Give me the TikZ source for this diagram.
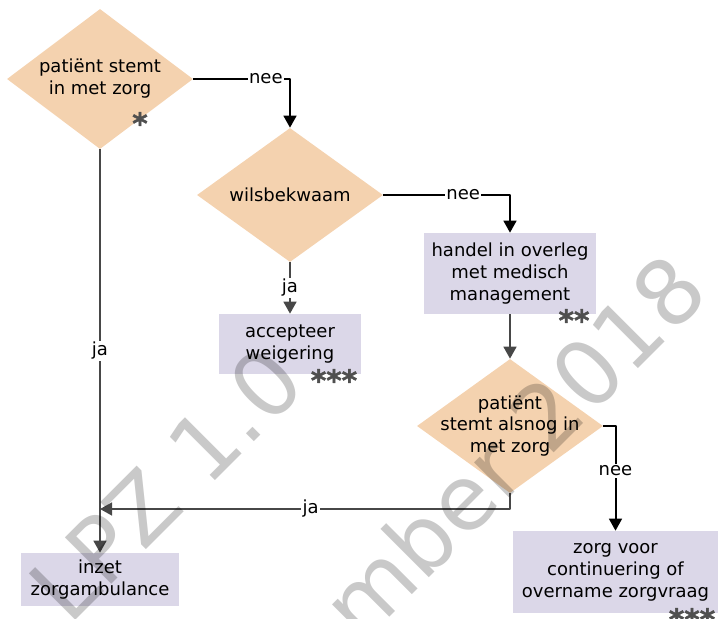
\documentclass[tikz,border=0pt]{standalone}
\usepackage{fontspec}
\setmainfont{DejaVu Sans}
\newfontfamily\sterfont{DejaVu Sans Bold}[FakeBold=1.5]
\usetikzlibrary{shapes.geometric,arrows.meta}
\definecolor{perzik}{HTML}{F4D2AF}
\definecolor{lila}{HTML}{DBD7E8}
\definecolor{donkergrijs}{HTML}{474747}
\definecolor{sterkleur}{HTML}{4F4F4F}

\begin{document}
\begin{tikzpicture}[x=0.025cm, y=-0.025cm, font=\fontsize{12.8}{15.6}\selectfont, line join=round,
		>={Triangle[length=0.3cm,width=0.32cm]},
		keuze/.style={diamond, fill=perzik, inner xsep=-25pt, inner ysep=0pt, minimum width=4.65cm, minimum height=3.35cm, align=center},
		actie/.style={rectangle, fill=lila, inner sep=0pt, align=center},
		nee/.style={->, line width=0.05cm, draw=black},
		ja/.style={->, line width=0.05cm, draw=donkergrijs},
		lbl/.style={fill=white, inner sep=1pt, text=black},
		ster/.style={font=\fontsize{21}{21}\sterfont, text=sterkleur, anchor=base, inner sep=0pt},
		wm/.style={font=\fontsize{64}{64}\selectfont, text=black, text opacity=0.21, rotate=45, anchor=base east, inner sep=0pt}]
	\useasboundingbox (0,0) rectangle (718,619);
	% keuzes
	\node[keuze, minimum height=3.5cm] (instemming) at (100,79) {patiënt stemt\\in met zorg};
	\node[keuze] (wilsbekwaam) at (290,195) {wilsbekwaam};
	\node[keuze] (alsnog) at (510,426) {patiënt\\stemt alsnog in\\met zorg};
	% acties
	\node[actie, minimum width=3.55cm, minimum height=1.5cm] (weigering) at (290,344) {accepteer\\weigering};
	\node[actie, minimum width=4.3cm, minimum height=2.025cm] (overleg) at (510,273.5) {handel in overleg\\met medisch\\management};
	\node[actie, minimum width=5.125cm, minimum height=2.05cm] (continuering) at (615.5,572) {zorg voor\\continuering of\\overname zorgvraag};
	\node[actie, minimum width=3.925cm, minimum height=1.325cm] (ambulance) at (100,579.5) {inzet\\zorgambulance};
	\node[ster] (ster1) at (140,134) {*};
	\node[ster] (ster2) at (574,331) {**};
	\node[ster] (ster3) at (334,391) {***};
	\node[ster] (ster4) at (692,630) {***};
	\coordinate (samen) at (100,509);
	% pijlen
	\draw[nee] (instemming.east) -| node[lbl, pos=0.375] {nee} (wilsbekwaam.north);
	\draw[ja] (wilsbekwaam.south) -- node[lbl] {ja} (weigering.north);
	\draw[nee] (wilsbekwaam.east) -| node[lbl, pos=0.315] {nee} (overleg.north);
	\draw[ja] (overleg.south) -- (alsnog.north);
	\draw[nee] (alsnog.east) -| node[lbl, pos=0.715] {nee} (continuering.north);
	\draw[ja] (alsnog.south) |- node[lbl, pos=0.743] {ja} (samen);
	\draw[ja] (instemming.south) -- node[lbl] {ja} (ambulance.north);
	% watermerk
	\node[wm] (versie) at (309,387) {LPZ 1.0};
	\node[wm] (datum) at (712,295) {september 2018};
\end{tikzpicture}
\end{document}
